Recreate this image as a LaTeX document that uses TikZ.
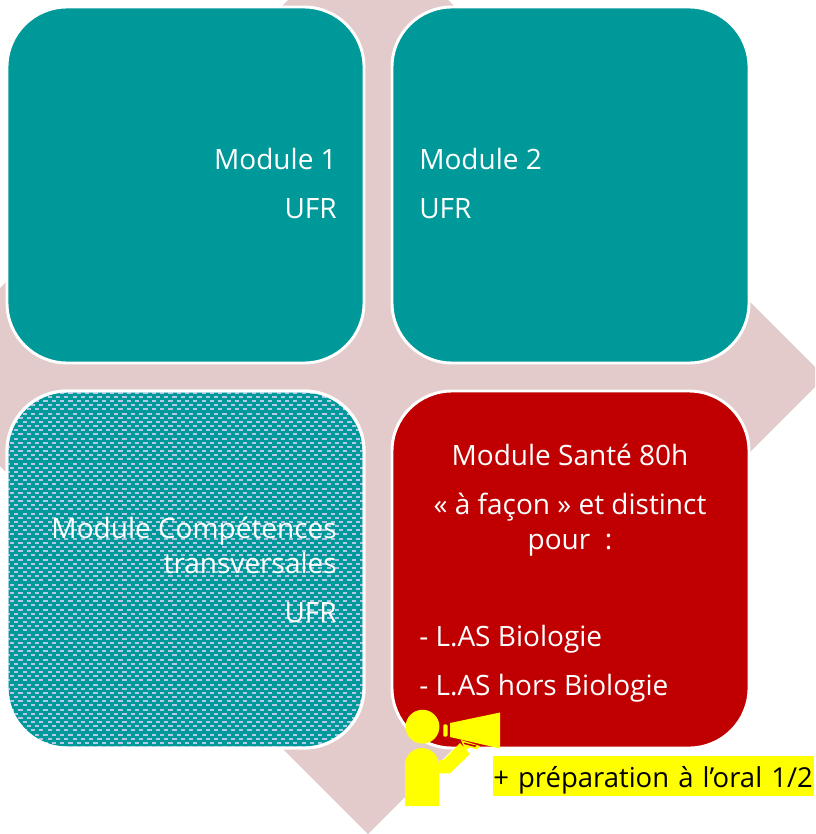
\documentclass[tikz,border=0pt]{standalone}
\usepackage{fontspec}
\setmainfont{Open Sans}
\definecolor{tealbox}{HTML}{009999}
\definecolor{redbox}{HTML}{C00000}
\definecolor{pinkback}{HTML}{E3CBCB}
\definecolor{dashblue}{HTML}{B4C7E7}
\definecolor{markyellow}{HTML}{FFFF00}
\tikzset{
modulebox/.style={draw=white,line width=2.2pt,rounded corners=45pt},
boxtext/.style={text=white,font=\fontsize{21}{25}\selectfont,inner sep=0pt},
}
\begin{document}
\begin{tikzpicture}[x=0.75pt,y=-0.75pt]
\useasboundingbox (0,0) rectangle (815,834);
\begin{scope}
\clip (0,0) rectangle (815,834);
\fill[color=pinkback] (368,-80)--(825,377)--(368,834)--(-89,377)--cycle;
\end{scope}
\fill[modulebox,fill=tealbox] (7,7) rectangle (364,363);
\fill[modulebox,fill=tealbox] (392,7) rectangle (749,363);
\fill[modulebox,fill=tealbox] (7,391) rectangle (364,748);
\begin{scope}
\clip[rounded corners=45pt] (8,392) rectangle (363,747);
\foreach \i in {0,...,85} {
  \pgfmathsetmacro{\dy}{391.7+4.17*\i}
  \pgfmathsetmacro{\dx}{1.7+4.165*mod(\i,2)}
  \foreach \k in {0,...,44} {
    \fill[color=dashblue] ({\dx+8.33*\k},\dy) rectangle ++(4.2,2);
  }
}
\end{scope}
\draw[modulebox] (7,391) rectangle (364,748);
\fill[modulebox,fill=redbox] (392,391) rectangle (749,748);
\node[boxtext,anchor=base east] (m1) at (337,170) {Module 1};
\node[boxtext,anchor=base east] (u1) at (337,219) {UFR};
\node[boxtext,anchor=base west] (m2) at (419,170) {Module 2};
\node[boxtext,anchor=base west] (u2) at (419,219) {UFR};
\node[boxtext,anchor=base east] (c1) at (337,538) {Module Compétences};
\node[boxtext,anchor=base east] (c2) at (337,573) {transversales};
\node[boxtext,anchor=base east] (u3) at (337,622) {UFR};
\node[boxtext,anchor=base] (s1) at (570,465) {Module Santé 80h};
\node[boxtext,anchor=base] (s2) at (570,514) {« à façon » et distinct};
\node[boxtext,anchor=base] (s3) at (570,549) {pour~~:};
\node[boxtext,anchor=base west] (l1) at (419,646) {- L.AS Biologie};
\node[boxtext,anchor=base west] (l2) at (419,695) {- L.AS hors Biologie};
% porte-voix
\fill[color=markyellow] (422.5,726.7) circle[radius=12.7pt];
\fill[color=markyellow] (405,806)--(405,765) arc[start angle=180,end angle=0,radius=12.7pt]--(439,806)--cycle;
\fill[color=markyellow] (439,760)--(443.5,760)--(460,743)--(470,754)--(450,773.3)--(439,773.3)--cycle;
\fill[color=markyellow,rounded corners=1pt] (443.3,724.3) rectangle (447.5,736.7);
\fill[color=markyellow] (450,723)--(500,712.5)--(500,748.5)--(450,737)--cycle;
\fill[color=markyellow] (461,740)--(480,746)--(477,749.5)--(470,747.5)--(465,750)--cycle;
\fill[color=redbox] (463.5,742.5)--(476.5,745.6)--(475,747)--(464.5,744.2)--cycle;
\node[text=black,fill=markyellow,font=\fontsize{20.6}{25}\selectfont,anchor=base west,inner xsep=0pt,inner ysep=0pt,text width=240.75pt,text height=23.2pt,text depth=6.7pt] (oral) at (493,787) {\mbox{+ préparation à l’oral 1/2}};
\end{tikzpicture}
\end{document}
